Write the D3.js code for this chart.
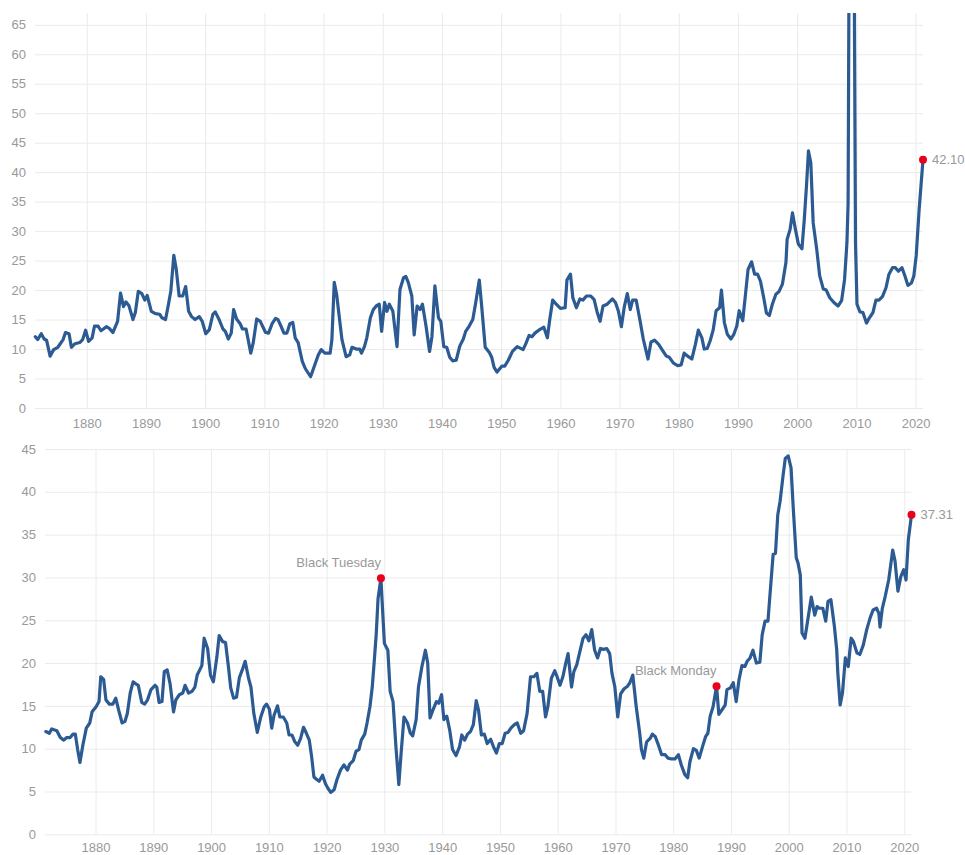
<!DOCTYPE html>
<html>
<head>
<meta charset="utf-8">
<script src="https://cdn.jsdelivr.net/npm/d3@7"></script>
<style>
 body { margin: 0; background: #fff; }
 svg { display: block; font-family: "Liberation Sans", Arial, sans-serif; }
 .tick text { fill: #999; font-size: 13px; }
 .grid line { stroke: #ebebeb; stroke-width: 1; }
 .note { fill: #999; font-size: 13px; }
</style>
</head>
<body>
<svg id="chart" width="965" height="855"></svg>
<script>
// S&P 500 PE ratio (top panel)
var peYears = [1871.3,1871.7,1872.3,1872.8,1873.2,1873.8,1874.4,1875.1,1876.0,1876.4,1877.0,1877.4,1878.0,1878.8,1879.3,1879.8,
 1880.3,1880.9,1881.3,1881.9,1882.4,1883.3,1883.8,1884.4,1885.2,1885.7,1886.2,1886.6,1887.1,1887.8,1888.2,1888.7,1889.3,1889.8,
 1890.2,1890.9,1891.6,1892.3,1892.7,1893.3,1893.8,1894.2,1894.7,1895.1,1895.6,1896.2,1896.7,1897.2,1897.7,1898.3,1899.0,1899.5,
 1900.1,1900.7,1901.3,1901.7,1902.3,1903.0,1903.4,1903.9,1904.4,1904.8,1905.3,1905.9,1906.3,1906.9,1907.7,1908.1,1908.7,1909.3,
 1910.2,1910.7,1911.3,1911.9,1912.3,1912.8,1913.3,1913.8,1914.3,1914.8,1915.2,1915.7,1916.4,1916.9,1917.8,1918.4,1919.1,1919.6,
 1920.2,1920.8,1921.1,1921.4,1921.8,1922.2,1922.7,1923.1,1923.8,1924.4,1924.8,1925.5,1926.1,1926.4,1926.9,1927.3,1927.9,1928.4,1929.0,1929.4,1929.8,
 1930.3,1930.7,1931.1,1931.7,1932.4,1932.9,1933.5,1933.9,1934.3,1934.9,1935.3,1935.8,1936.3,1936.7,1937.3,1937.9,1938.3,1938.8,1939.4,1939.8,
 1940.3,1940.8,1941.3,1941.8,1942.4,1943.0,1943.6,1944.0,1944.6,1945.2,1945.7,1946.3,1946.7,1947.3,1948.0,1948.4,1948.8,1949.3,
 1950.1,1950.6,1951.2,1951.9,1952.7,1953.7,1954.2,1954.7,1955.2,1955.7,1956.5,1957.2,1957.8,1958.2,1958.7,1959.3,
 1960.0,1960.8,1961.1,1961.7,1962.1,1962.7,1963.3,1963.8,1964.4,1965.1,1965.7,1966.2,1966.7,1967.2,1967.9,1968.8,1969.3,1969.8,
 1970.3,1970.8,1971.3,1971.8,1972.2,1972.8,1973.4,1974.0,1974.8,1975.3,1975.9,1976.6,1977.3,1977.9,1978.4,1979.1,1979.8,
 1980.4,1980.9,1981.5,1982.2,1982.8,1983.3,1983.9,1984.3,1984.8,1985.3,1985.8,1986.3,1986.9,1987.2,1987.7,1988.2,1988.8,1989.3,1989.8,
 1990.2,1990.8,1991.3,1991.7,1992.3,1992.8,1993.3,1993.8,1994.4,1994.8,1995.3,1995.8,1996.4,1996.9,1997.5,1998.1,1998.3,1998.8,1999.2,1999.7,
 2000.2,2000.8,2001.2,2001.6,2001.9,2002.3,2002.7,2003.3,2003.8,2004.4,2004.9,2005.5,2006.2,2006.9,2007.5,2008.0,2008.4,2008.6,2008.8,2009.2,2009.6,2009.85,
 2010.1,2010.6,2011.1,2011.7,2012.2,2012.8,2013.3,2013.8,2014.4,2015.0,2015.5,2016.1,2016.6,2017.1,2017.7,2018.2,2018.7,2019.3,2019.7,
 2020.1,2020.6,2021.25];
var peValues = [12.1,11.6,12.6,11.7,11.5,8.8,9.9,10.3,11.6,12.8,12.6,10.3,10.9,11.1,11.6,13.2,
 11.3,11.9,13.9,13.9,13.1,13.8,13.5,12.8,14.7,19.5,17.2,18.0,17.4,15.0,16.2,19.8,19.4,18.3,
 19.1,16.4,16.0,15.9,15.3,15.0,17.6,19.9,25.9,23.6,19.0,19.0,20.6,16.4,15.5,15.0,15.5,14.7,
 12.6,13.3,15.9,16.3,15.1,13.4,13.0,11.7,12.7,16.7,15.1,14.3,13.4,13.4,9.3,11.0,15.1,14.7,
 12.8,12.7,14.3,15.2,15.0,13.9,12.7,12.7,14.3,14.5,11.9,11.1,7.9,6.7,5.3,7.0,9.0,9.9,
 9.3,9.3,9.3,11.6,21.3,19.3,15.0,11.6,8.7,9.0,10.3,10.0,10.0,9.3,10.4,11.9,15.3,16.7,17.4,17.6,13.0,
 17.9,16.4,17.6,16.4,10.4,20.1,22.1,22.3,21.3,19.0,12.4,17.3,16.7,17.6,13.9,9.6,12.1,20.7,15.3,14.7,
 10.4,10.3,8.6,8.0,8.1,10.5,11.7,13.0,13.9,15.0,17.9,21.7,17.3,10.3,9.4,8.6,6.9,6.1,
 7.1,7.1,8.1,9.6,10.4,9.9,11.0,12.3,12.1,12.7,13.3,13.7,11.9,15.0,18.3,17.6,
 16.9,17.0,21.7,22.7,18.7,17.0,18.5,18.3,19.0,19.0,18.4,16.3,14.7,17.3,17.6,18.5,17.9,16.4,
 13.8,17.2,19.4,16.7,18.3,18.3,15.1,11.7,8.3,11.2,11.5,10.8,9.7,8.8,8.6,7.6,7.2,
 7.3,9.3,8.8,8.3,10.8,13.2,11.9,10.0,10.1,11.4,13.2,16.5,17.0,20.0,14.5,12.5,11.7,12.5,13.9,
 16.5,14.8,19.6,23.5,24.8,22.7,22.7,21.5,18.4,16.1,15.7,17.6,19.3,19.7,21.0,24.7,28.6,30.3,33.1,30.3,
 27.8,27.0,32.0,38.2,43.6,41.6,31.4,26.9,22.4,20.2,20.0,18.7,17.9,17.3,18.2,21.8,28.0,34.8,86.0,123.7,80.0,28.0,
 17.6,16.3,16.2,14.4,15.3,16.2,18.3,18.3,18.9,20.4,22.7,23.8,23.8,23.2,23.8,22.4,20.8,21.2,22.4,
 25.8,33.7,42.10];

// Shiller CAPE ratio (bottom panel)
var capeYears = [1871.4,1872.0,1872.4,1873.3,1873.9,1874.5,1875.0,1875.6,1876.1,1876.5,1876.9,1877.3,1877.8,1878.4,1879.0,1879.4,
 1880.1,1880.6,1880.9,1881.4,1881.8,1882.4,1883.0,1883.5,1884.0,1884.6,1885.1,1885.5,1886.0,1886.5,1886.9,1887.4,1888.0,1888.5,1889.0,1889.6,
 1890.3,1890.6,1891.0,1891.5,1891.9,1892.4,1892.9,1893.5,1893.9,1894.5,1895.1,1895.5,1896.1,1896.7,1897.2,1897.6,1898.4,1898.8,1899.4,1899.9,
 1900.4,1901.0,1901.4,1902.0,1902.5,1903.0,1903.4,1903.9,1904.4,1904.9,1905.4,1905.9,1906.5,1906.9,1907.4,1908.0,1908.6,1909.2,1909.6,
 1910.1,1910.5,1910.9,1911.5,1911.9,1912.5,1913.1,1913.5,1914.0,1914.5,1915.0,1915.5,1916.0,1916.5,1917.0,1917.4,1917.8,1918.3,1918.7,1919.3,1919.8,
 1920.3,1920.7,1921.3,1921.8,1922.4,1923.0,1923.6,1924.0,1924.6,1925.1,1925.6,1926.0,1926.6,1927.0,1927.5,1927.9,1928.3,1928.6,1928.9,1929.4,
 1930.0,1930.6,1931.0,1931.5,1932.0,1932.5,1932.9,1933.4,1934.0,1934.5,1934.9,1935.5,1935.9,1936.5,1937.1,1937.5,1937.9,1938.4,1939.0,1939.4,1939.9,
 1940.3,1940.8,1941.3,1941.8,1942.4,1943.0,1943.4,1943.9,1944.4,1944.9,1945.4,1945.9,1946.3,1946.8,1947.3,1947.8,1948.4,1948.9,1949.4,1949.9,
 1950.4,1950.9,1951.4,1951.9,1952.5,1953.0,1953.6,1954.1,1954.7,1955.3,1955.9,1956.4,1956.9,1957.4,1957.9,1958.3,1958.9,1959.5,1959.9,
 1960.4,1960.9,1961.4,1961.8,1962.4,1962.8,1963.3,1963.9,1964.4,1964.9,1965.4,1965.9,1966.4,1966.9,1967.4,1967.9,1968.5,1969.0,1969.4,1969.9,
 1970.4,1970.9,1971.5,1972.1,1972.5,1973.0,1973.6,1974.2,1974.5,1974.9,1975.4,1976.0,1976.4,1976.9,1977.4,1978.0,1978.6,1979.1,1979.7,
 1980.3,1980.9,1981.4,1982.0,1982.5,1982.9,1983.5,1984.0,1984.5,1985.1,1985.6,1986.0,1986.4,1986.9,1987.5,1987.9,1988.5,1989.0,1989.3,1989.9,
 1990.4,1990.9,1991.4,1991.9,1992.4,1992.8,1993.3,1993.8,1994.4,1995.0,1995.4,1995.9,1996.4,1996.8,1997.3,1997.7,1998.1,1998.5,1999.0,1999.4,1999.9,
 2000.4,2000.8,2001.3,2001.6,2002.0,2002.3,2002.8,2003.4,2003.9,2004.5,2004.9,2005.3,2005.9,2006.4,2006.8,2007.3,2007.9,2008.3,2008.5,2008.9,2009.3,2009.8,
 2010.3,2010.8,2011.2,2011.8,2012.3,2012.9,2013.5,2014.1,2014.6,2015.2,2015.6,2015.8,2016.2,2016.7,2017.3,2017.7,2018.0,2018.4,2018.9,2019.4,2019.9,
 2020.3,2020.7,2021.25];
var capeValues = [12.0,11.8,12.3,12.1,11.3,11.0,11.3,11.3,11.7,11.7,9.9,8.4,10.4,12.4,13.0,14.3,
 14.9,15.5,18.4,18.1,15.7,15.2,15.2,15.9,14.5,13.0,13.2,14.1,16.5,17.8,17.6,17.4,15.4,15.2,15.7,16.9,
 17.4,17.2,15.4,15.5,19.0,19.2,17.6,14.3,15.7,16.3,16.5,17.4,16.5,16.7,17.2,18.6,19.7,22.9,21.7,18.6,
 17.8,20.7,23.2,22.5,22.4,19.6,17.1,15.9,16.0,18.3,19.2,20.2,18.2,17.2,14.1,11.9,13.7,14.9,15.2,
 14.6,12.4,13.9,15.0,13.7,13.7,13.0,11.6,11.6,10.8,10.4,11.2,12.5,11.8,11.0,9.1,6.7,6.4,6.2,6.9,5.9,
 5.3,4.9,5.2,6.4,7.5,8.1,7.5,8.2,8.6,9.7,9.9,11.0,11.7,13.0,14.9,17.2,20.7,23.5,27.5,29.9,
 22.3,21.5,16.7,15.5,10.2,5.8,9.5,13.7,13.0,11.8,11.5,13.4,17.2,19.6,21.5,20.0,13.6,14.5,15.5,15.3,16.3,
 13.4,13.8,12.2,9.9,9.2,10.2,11.6,11.0,11.7,12.0,12.8,15.6,14.5,11.6,11.7,10.6,11.1,10.2,9.5,10.6,
 10.6,11.8,11.9,12.4,12.8,13.0,11.8,12.1,14.1,18.4,18.4,18.8,16.7,16.7,13.7,14.9,18.2,19.1,18.4,
 17.4,18.4,20.0,21.1,17.2,19.0,19.8,21.5,22.9,23.3,22.6,23.9,21.5,20.6,21.7,21.6,21.7,21.1,18.8,17.2,
 13.7,16.4,17.0,17.3,17.7,18.6,14.9,11.8,9.9,8.9,10.8,11.2,11.7,11.4,10.5,9.3,9.3,8.9,8.8,
 8.8,9.3,8.1,7.0,6.6,8.5,10.0,9.8,8.9,10.3,11.4,11.8,13.8,14.9,17.3,14.0,14.6,15.1,16.9,17.1,
 17.7,15.5,18.1,19.7,19.6,20.2,20.6,21.5,20.0,20.1,23.3,24.9,24.9,28.4,32.7,32.8,37.3,38.9,41.8,43.9,44.2,
 42.8,37.9,32.3,31.7,30.3,23.5,22.9,25.5,27.7,25.6,26.6,26.4,26.4,24.9,27.2,27.4,24.3,21.6,18.8,15.1,16.5,20.6,
 19.6,22.9,22.5,21.2,21.0,22.1,23.9,25.3,26.2,26.4,25.8,24.2,26.4,27.8,29.7,31.7,33.2,31.9,28.4,30.1,30.9,
 29.7,34.4,37.31];

var decadeTicks = [1880,1890,1900,1910,1920,1930,1940,1950,1960,1970,1980,1990,2000,2010,2020];
var peTicks = [0,5,10,15,20,25,30,35,40,45,50,55,60,65];
var capeTicks = [0,5,10,15,20,25,30,35,40,45];
var noteYears = [1929.4, 1987.5];
var noteLabels = ["Black Tuesday", "Black Monday"];

var lineColor = "#2c5a93", dotColor = "#e8001c";
var svg = d3.select("#chart");

function zip(xs, ys){ return xs.map(function(x, i){ return {year: x, value: ys[i]}; }); }

function panel(cfg){
    var data = zip(cfg.years, cfg.values);
    var x = d3.scaleLinear().domain([1871.25, 2021.25]).range([cfg.left, cfg.right]);
    var y = d3.scaleLinear().domain([0, cfg.ymax]).range([cfg.bottom, cfg.top]);
    var g = svg.append("g");

    // horizontal grid + y labels
    g.append("g").attr("class", "grid")
        .attr("transform", "translate(" + cfg.left + ",0)")
        .call(d3.axisLeft(y).tickValues(cfg.yticks).tickSize(-(cfg.right - cfg.left)).tickPadding(9))
        .call(function(a){ a.select(".domain").remove(); });

    // vertical grid + x labels
    g.append("g").attr("class", "grid")
        .attr("transform", "translate(0," + cfg.bottom + ")")
        .call(d3.axisBottom(x).tickValues(decadeTicks).tickFormat(d3.format("d"))
              .tickSize(-(cfg.bottom - cfg.top)).tickPadding(cfg.xpad))
        .call(function(a){ a.select(".domain").remove(); });

    var clipId = "clip" + cfg.id;
    svg.append("clipPath").attr("id", clipId).append("rect")
        .attr("x", cfg.left - 5).attr("y", cfg.top)
        .attr("width", cfg.right - cfg.left + 10).attr("height", cfg.bottom - cfg.top + 5);

    var line = d3.line().x(function(d){ return x(d.year); }).y(function(d){ return y(d.value); });
    g.append("path").datum(data)
        .attr("clip-path", "url(#" + clipId + ")")
        .attr("fill", "none").attr("stroke", lineColor).attr("stroke-width", 3.2)
        .attr("stroke-linejoin", "round").attr("stroke-linecap", "round")
        .attr("d", line);

    // last value
    var last = data[data.length - 1];
    g.append("circle").attr("cx", x(last.year)).attr("cy", y(last.value)).attr("r", 4).attr("fill", dotColor);
    g.append("text").attr("class", "note")
        .attr("x", x(last.year) + 9).attr("y", y(last.value) + 4.5)
        .text(last.value.toFixed(2));

    (cfg.notes || []).forEach(function(n){
        var d = data.find(function(p){ return p.year === n.year; });
        g.append("circle").attr("cx", x(d.year)).attr("cy", y(d.value)).attr("r", 4).attr("fill", dotColor);
        g.append("text").attr("class", "note").attr("text-anchor", "end")
            .attr("x", x(d.year)).attr("y", y(d.value) - 11).text(n.label);
    });
}

panel({id: 1, years: peYears, values: peValues, ymax: 67, yticks: peTicks,
       left: 35, right: 923, top: 13, bottom: 408, xpad: 11});
panel({id: 2, years: capeYears, values: capeValues, ymax: 45, yticks: capeTicks,
       left: 45, right: 911.5, top: 449, bottom: 834.3, xpad: 8,
       notes: noteYears.map(function(yr, i){ return {year: yr, label: noteLabels[i]}; })});
</script>
</body>
</html>
